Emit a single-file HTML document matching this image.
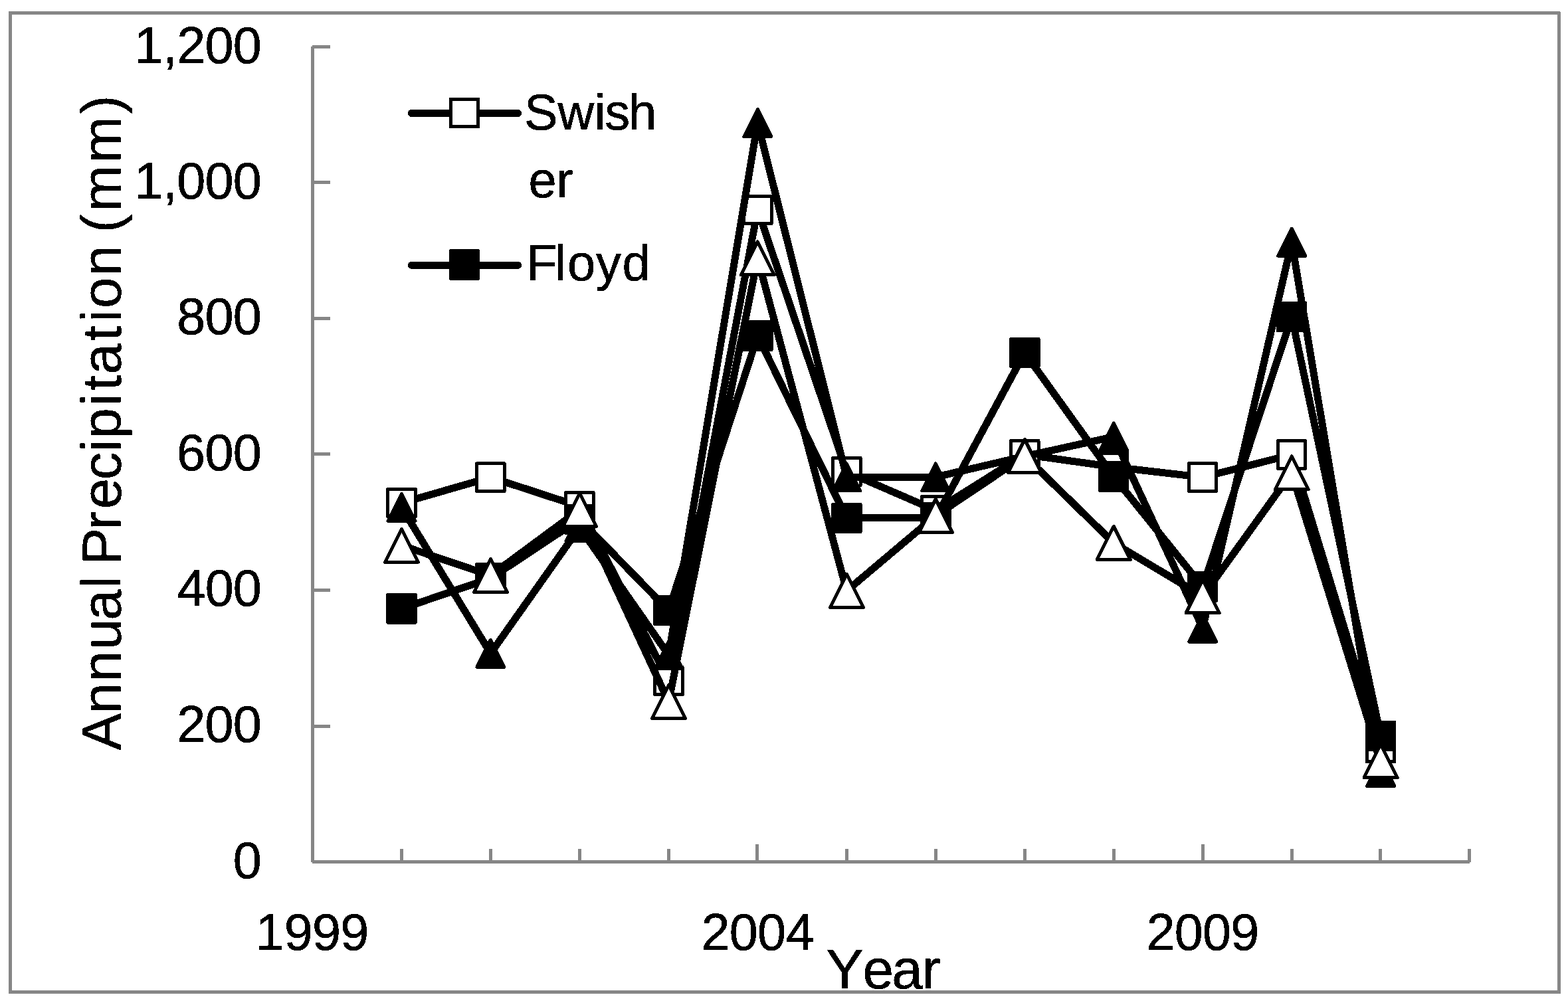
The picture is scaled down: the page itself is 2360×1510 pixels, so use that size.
<!DOCTYPE html>
<html lang="en">
<head>
<meta charset="utf-8">
<title>Annual Precipitation by Year</title>
<style>
html,body{margin:0;padding:0;background:#fff;}
body{width:2360px;height:1510px;overflow:hidden;}
svg{display:block;}
text{font-family:"Liberation Sans",sans-serif;fill:#000;stroke:#000;stroke-width:0.6px;stroke-linejoin:round;}
.ser{fill:none;stroke:#000;stroke-width:11;stroke-linecap:round;stroke-linejoin:round;}
.mk{stroke:#000;stroke-width:5;stroke-linejoin:round;}
.ax{fill:#868686;}
</style>
</head>
<body>
<svg width="2360" height="1510" viewBox="0 0 2360 1510" role="img" aria-label="Line chart of annual precipitation in millimetres by year, 2000 to 2011">
<rect x="0" y="0" width="2360" height="1510" fill="#fff"/>
<g id="frame-and-axes" class="ax" shape-rendering="crispEdges">
<rect x="13" y="17" width="2335" height="5"/>
<rect x="13" y="1491" width="2336" height="5"/>
<rect x="13" y="17" width="5" height="1479"/>
<rect x="2344" y="18" width="5" height="1478"/>
<rect x="468" y="70" width="5" height="1228"/>
<rect x="470" y="1295" width="1742" height="5"/>
<rect x="470" y="68" width="27" height="5"/>
<rect x="470" y="272" width="27" height="5"/>
<rect x="470" y="477" width="27" height="5"/>
<rect x="470" y="681" width="27" height="5"/>
<rect x="470" y="886" width="27" height="5"/>
<rect x="470" y="1091" width="27" height="5"/>
<rect x="602" y="1278" width="5" height="20"/>
<rect x="736" y="1278" width="5" height="20"/>
<rect x="870" y="1278" width="5" height="20"/>
<rect x="1004" y="1278" width="5" height="20"/>
<rect x="1137" y="1271" width="5" height="27"/>
<rect x="1272" y="1278" width="5" height="20"/>
<rect x="1406" y="1278" width="5" height="20"/>
<rect x="1540" y="1278" width="5" height="20"/>
<rect x="1674" y="1278" width="5" height="20"/>
<rect x="1808" y="1271" width="5" height="27"/>
<rect x="1942" y="1278" width="5" height="20"/>
<rect x="2075" y="1278" width="5" height="20"/>
<rect x="2209" y="1278" width="5" height="20"/>
</g>
<g id="plot" shape-rendering="crispEdges">
<polyline class="ser" points="604.47,757.3 738.44,718.6 872.41,762.4 1006.38,1025.2 1140.35,315.8 1274.32,710.3 1408.29,768.3 1542.26,684.3 1676.23,703 1810.2,718.5 1944.17,684.5 2078.14,1126"/>
<g class="mk"><rect x="583.72" y="736.55" width="41.5" height="41.5" fill="#fff"/><rect x="717.69" y="697.85" width="41.5" height="41.5" fill="#fff"/><rect x="851.66" y="741.65" width="41.5" height="41.5" fill="#fff"/><rect x="985.63" y="1004.45" width="41.5" height="41.5" fill="#fff"/><rect x="1119.6" y="295.05" width="41.5" height="41.5" fill="#fff"/><rect x="1253.57" y="689.55" width="41.5" height="41.5" fill="#fff"/><rect x="1387.54" y="747.55" width="41.5" height="41.5" fill="#fff"/><rect x="1521.51" y="663.55" width="41.5" height="41.5" fill="#fff"/><rect x="1655.48" y="682.25" width="41.5" height="41.5" fill="#fff"/><rect x="1789.45" y="697.75" width="41.5" height="41.5" fill="#fff"/><rect x="1923.42" y="663.75" width="41.5" height="41.5" fill="#fff"/><rect x="2057.39" y="1105.25" width="41.5" height="41.5" fill="#fff"/></g>
<polyline class="ser" points="604.47,916.4 738.44,870.5 872.41,781.8 1006.38,919.2 1140.35,505.7 1274.32,779.9 1408.29,779.7 1542.26,531 1676.23,717.6 1810.2,883.5 1944.17,477 2078.14,1108"/>
<g class="mk"><rect x="583.72" y="895.65" width="41.5" height="41.5" fill="#000"/><rect x="717.69" y="849.75" width="41.5" height="41.5" fill="#000"/><rect x="851.66" y="761.05" width="41.5" height="41.5" fill="#000"/><rect x="985.63" y="898.45" width="41.5" height="41.5" fill="#000"/><rect x="1119.6" y="484.95" width="41.5" height="41.5" fill="#000"/><rect x="1253.57" y="759.15" width="41.5" height="41.5" fill="#000"/><rect x="1387.54" y="758.95" width="41.5" height="41.5" fill="#000"/><rect x="1521.51" y="510.25" width="41.5" height="41.5" fill="#000"/><rect x="1655.48" y="696.85" width="41.5" height="41.5" fill="#000"/><rect x="1789.45" y="862.75" width="41.5" height="41.5" fill="#000"/><rect x="1923.42" y="456.25" width="41.5" height="41.5" fill="#000"/><rect x="2057.39" y="1087.25" width="41.5" height="41.5" fill="#000"/></g>
<polyline class="ser" points="604.47,763.8 738.44,983.7 872.41,794 1006.38,986.1 1140.35,185 1274.32,718.4 1408.29,718.2 1542.26,687 1676.23,657.5 1810.2,945.6 1944.17,364.7 2078.14,1162.8"/>
<g class="mk"><polygon points="604.47,743.3 624.97,784.3 583.97,784.3" fill="#000"/><polygon points="738.44,963.2 758.94,1004.2 717.94,1004.2" fill="#000"/><polygon points="872.41,773.5 892.91,814.5 851.91,814.5" fill="#000"/><polygon points="1006.38,965.6 1026.88,1006.6 985.88,1006.6" fill="#000"/><polygon points="1140.35,164.5 1160.85,205.5 1119.85,205.5" fill="#000"/><polygon points="1274.32,697.9 1294.82,738.9 1253.82,738.9" fill="#000"/><polygon points="1408.29,697.7 1428.79,738.7 1387.79,738.7" fill="#000"/><polygon points="1542.26,666.5 1562.76,707.5 1521.76,707.5" fill="#000"/><polygon points="1676.23,637 1696.73,678 1655.73,678" fill="#000"/><polygon points="1810.2,925.1 1830.7,966.1 1789.7,966.1" fill="#000"/><polygon points="1944.17,344.2 1964.67,385.2 1923.67,385.2" fill="#000"/><polygon points="2078.14,1142.3 2098.64,1183.3 2057.64,1183.3" fill="#000"/></g>
<polyline class="ser" points="604.47,821.2 738.44,866.4 872.41,767.4 1006.38,1056.6 1140.35,388.8 1274.32,889.5 1408.29,776.5 1542.26,686.5 1676.23,817.4 1810.2,897.7 1944.17,711.8 2078.14,1145.5"/>
<g class="mk"><polygon points="604.47,796.2 629.47,846.2 579.47,846.2" fill="#fff"/><polygon points="738.44,841.4 763.44,891.4 713.44,891.4" fill="#fff"/><polygon points="872.41,742.4 897.41,792.4 847.41,792.4" fill="#fff"/><polygon points="1006.38,1031.6 1031.38,1081.6 981.38,1081.6" fill="#fff"/><polygon points="1140.35,363.8 1165.35,413.8 1115.35,413.8" fill="#fff"/><polygon points="1274.32,864.5 1299.32,914.5 1249.32,914.5" fill="#fff"/><polygon points="1408.29,751.5 1433.29,801.5 1383.29,801.5" fill="#fff"/><polygon points="1542.26,661.5 1567.26,711.5 1517.26,711.5" fill="#fff"/><polygon points="1676.23,792.4 1701.23,842.4 1651.23,842.4" fill="#fff"/><polygon points="1810.2,872.7 1835.2,922.7 1785.2,922.7" fill="#fff"/><polygon points="1944.17,686.8 1969.17,736.8 1919.17,736.8" fill="#fff"/><polygon points="2078.14,1120.5 2103.14,1170.5 2053.14,1170.5" fill="#fff"/></g>
<line class="ser" x1="619.4" y1="170.4" x2="779.6" y2="170.4"/>
<g class="mk"><rect x="678.25" y="149.1" width="41.5" height="41.5" fill="#fff"/></g>
<line class="ser" x1="619.4" y1="399.2" x2="779.6" y2="399.2"/>
<g class="mk"><rect x="678.25" y="377.85" width="41.5" height="41.5" fill="#000"/></g>
</g>
<filter id="crisp" filterUnits="userSpaceOnUse" x="0" y="0" width="2360" height="1510" color-interpolation-filters="sRGB"><feComponentTransfer><feFuncA type="discrete" tableValues="0 1"/></feComponentTransfer></filter>
<g id="labels" filter="url(#crisp)">
<text font-size="77.4" x="202.22 245.59 266.36 308.6 350.85" y="94.5">1,200</text>
<text font-size="77.4" x="202.22 245.59 266.36 308.6 350.85" y="299">1,000</text>
<text font-size="77.4" x="266.36 308.6 350.85" y="503">800</text>
<text font-size="77.4" x="266.09 308.6 350.85" y="707.8">600</text>
<text font-size="77.4" x="266.43 308.78 350.85" y="912.4">400</text>
<text font-size="77.4" x="266.36 308.6 350.85" y="1116.9">200</text>
<text font-size="77.4" x="350.85" y="1322">0</text>
<text font-size="77.4" x="384.55 427.87 470.12 512.37" y="1430.2">1999</text>
<text font-size="77.4" x="1055.6 1097.85 1139.92 1182.77" y="1430.2">2004</text>
<text font-size="77.4" x="1725.6 1767.85 1810.1 1852.37" y="1430.2">2009</text>
<text font-size="83.6" x="1243.51 1298.49 1342.31 1387.86" y="1488.2">Year</text>
<text font-size="83.6" transform="translate(181.6 1128.4) rotate(-90)" x="-1.34 53.83 101.96 150.21 194.39 242.56 272.72 277.67 330.47 362.11 405.94 448.12 467.76 517.24 540.42 564.64 615.04 643.56 664.23 712.39 770.12 778.1 810.04 883.28 957.06" y="0">Annual Precipitation (mm)</text>
<text font-size="75.8" x="789.02 839.58 894.77 910.37 945.92" y="194.6">Swish</text>
<text font-size="75.8" x="795.55 837.33" y="296.6">er</text>
<text font-size="75.8" x="792.54 835.3 854.01 896.95 936.44" y="422">Floyd</text>
</g>
</svg>
</body>
</html>
